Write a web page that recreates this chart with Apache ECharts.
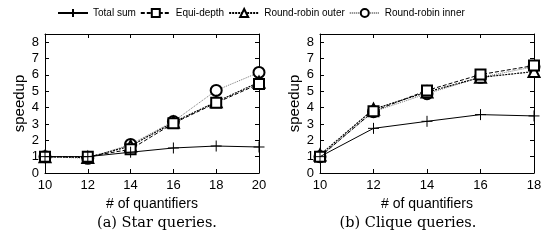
<!DOCTYPE html>
<html>
<head>
<meta charset="utf-8">
<script src="https://cdn.jsdelivr.net/npm/echarts@6/dist/echarts.min.js"></script>
<style>html,body{margin:0;padding:0;background:#fff}#c{width:547px;height:244px}</style>
</head>
<body>
<div id="c"></div>
<script>
const seriesNames = ['Total sum', 'Equi-depth', 'Round-robin outer', 'Round-robin inner'];
const xLeft = [10, 12, 14, 16, 18, 20];
const xRight = [10, 12, 14, 16, 18];
const leftTotal = [1.0, 1.0, 1.27, 1.53, 1.65, 1.59];
const leftEqui  = [1.0, 1.0, 1.45, 3.04, 4.29, 5.45];
const leftOuter = [1.0, 0.95, 1.65, 3.1, 4.35, 5.55];
const leftInner = [1.0, 0.9, 1.75, 3.15, 5.05, 6.15];
const rightTotal = [1.0, 2.73, 3.16, 3.57, 3.49];
const rightEqui  = [1.0, 3.78, 5.05, 6.02, 6.57];
const rightOuter = [1.1, 3.9, 4.95, 5.85, 6.2];
const rightInner = [1.0, 3.75, 4.85, 5.85, 6.5];
const captions = ['(a) Star queries.', '(b) Clique queries.'];
const xName = '# of quantifiers';
const yName = 'speedup';

const sans = 'Liberation Sans, Arial, sans-serif';
const plusPath = 'path://M5,0L5,10M0,5L10,5';

const styles = [
  {symbol: plusPath, symbolSize: 11, line: {color: '#000', width: 1, type: 'solid'}, item: {color: '#000', borderColor: '#000', borderWidth: 1}},
  {symbol: 'emptyRect', symbolSize: 10, line: {color: '#000', width: 1, type: [4, 2]}, item: {color: '#000', borderColor: '#000', borderWidth: 1}},
  {symbol: 'emptyTriangle', symbolSize: 11, line: {color: '#000', width: 1.2, type: [2, 1]}, item: {color: '#000', borderColor: '#000', borderWidth: 1}},
  {symbol: 'emptyCircle', symbolSize: 11, line: {color: '#777', width: 1, type: [1, 1]}, item: {color: '#000', borderColor: '#000', borderWidth: 1}}
];

function pairs(xs, ys) { return xs.map((x, i) => [x, ys[i]]); }

const leftData = [leftTotal, leftEqui, leftOuter, leftInner];
const rightData = [rightTotal, rightEqui, rightOuter, rightInner];

const series = [];
[leftData, rightData].forEach((set, g) => {
  const xs = g === 0 ? xLeft : xRight;
  set.forEach((ys, i) => {
    const s = styles[i];
    series.push({
      name: seriesNames[i], type: 'line',
      xAxisIndex: g * 2, yAxisIndex: g * 2,
      data: pairs(xs, ys),
      symbol: s.symbol, symbolSize: s.symbolSize,
      lineStyle: s.line, itemStyle: s.item,
      clip: false, animation: false, z: 10 - i
    });
  });
});

const grids = [
  {left: 45, top: 34, width: 214, height: 139},
  {left: 320, top: 34, width: 214, height: 139}
];

const xAxes = [], yAxes = [];
[[10, 20], [10, 18]].forEach((r, g) => {
  const base = {type: 'value', gridIndex: g, min: r[0], max: r[1], interval: 2,
    axisLine: {show: true, onZero: false, lineStyle: {color: '#000', width: 1}},
    axisTick: {show: true, inside: true, length: 4, lineStyle: {color: '#000'}},
    splitLine: {show: false}};
  xAxes.push(Object.assign({}, base, {position: 'bottom',
    name: xName, nameLocation: 'middle', nameGap: 23,
    nameTextStyle: {fontFamily: sans, fontSize: 14, color: '#000'},
    axisLabel: {fontFamily: sans, fontSize: 13, color: '#000', margin: 6}}));
  xAxes.push(Object.assign({}, base, {position: 'top', axisLabel: {show: false}}));
  const ybase = {type: 'value', gridIndex: g, min: 0, max: 8.5, interval: 1,
    axisLine: {show: true, onZero: false, lineStyle: {color: '#000', width: 1}},
    axisTick: {show: true, inside: true, length: 4, lineStyle: {color: '#000'}},
    splitLine: {show: false}};
  yAxes.push(Object.assign({}, ybase, {position: 'left',
    name: yName, nameLocation: 'middle', nameGap: 18, nameRotate: 90,
    nameTextStyle: {fontFamily: sans, fontSize: 15, color: '#000'},
    axisLabel: {fontFamily: sans, fontSize: 13, color: '#000', margin: 6, showMaxLabel: false}}));
  yAxes.push(Object.assign({}, ybase, {position: 'right', axisLabel: {show: false}}));
});

const option = {
  backgroundColor: '#fff',
  animation: false,
  legend: {
    data: seriesNames, left: 57, top: 8, itemGap: 4, itemWidth: 30, itemHeight: 10,
    textStyle: {fontFamily: sans, fontSize: 10, color: '#000'}, padding: 0
  },
  grid: grids,
  xAxis: xAxes,
  yAxis: yAxes,
  series: series,
  graphic: [
    {type: 'text', x: 157, y: 223, style: {text: captions[0], fontFamily: 'DejaVu Serif, serif', fontSize: 14.5, fill: '#000', align: 'center', verticalAlign: 'middle'}},
    {type: 'text', x: 408, y: 223, style: {text: captions[1], fontFamily: 'DejaVu Serif, serif', fontSize: 14.5, fill: '#000', align: 'center', verticalAlign: 'middle'}}
  ]
};

const chart = echarts.init(document.getElementById('c'), null, {renderer: 'canvas'});
chart.setOption(option);
</script>
</body>
</html>
